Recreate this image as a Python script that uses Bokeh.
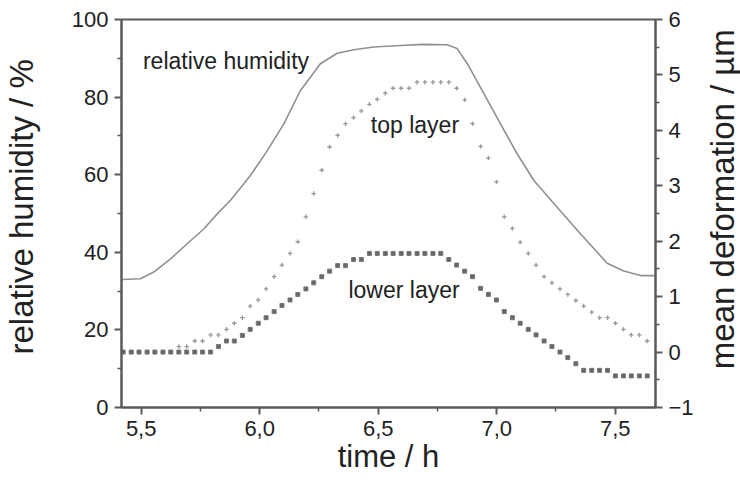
import math
from bokeh.plotting import figure
from bokeh.models import (Range1d, LinearAxis, FixedTicker, CustomJSTickFormatter,
                          Label, ColumnDataSource)
from bokeh.embed import file_html
from bokeh.resources import INLINE

# ---------------- data ----------------
# time (h) of each deformation measurement
time_h = [5.424, 5.458, 5.491, 5.525, 5.558, 5.592, 5.625, 5.659, 5.692, 5.726,
          5.759, 5.793, 5.826, 5.860, 5.893, 5.927, 5.960, 5.994, 6.027, 6.061,
          6.094, 6.128, 6.161, 6.195, 6.228, 6.262, 6.295, 6.329, 6.362, 6.396,
          6.429, 6.463, 6.496, 6.530, 6.563, 6.597, 6.630, 6.664, 6.697, 6.731,
          6.764, 6.798, 6.831, 6.865, 6.898, 6.932, 6.965, 6.999, 7.032, 7.066,
          7.099, 7.133, 7.166, 7.200, 7.233, 7.267, 7.300, 7.334, 7.367, 7.401,
          7.434, 7.468, 7.501, 7.535, 7.568, 7.602, 7.635]

# mean deformation of the top layer (um)
top_layer = [0.0, 0.0, 0.0, 0.0, 0.0, 0.0, 0.0, 0.10, 0.10, 0.20,
             0.20, 0.31, 0.31, 0.41, 0.52, 0.62, 0.83, 0.94, 1.14, 1.36,
             1.57, 1.78, 1.99, 2.44, 2.86, 3.28, 3.70, 3.91, 4.12, 4.23,
             4.35, 4.47, 4.56, 4.67, 4.76, 4.76, 4.76, 4.87, 4.87, 4.87,
             4.87, 4.87, 4.76, 4.55, 4.12, 3.71, 3.50, 3.07, 2.44, 2.23,
             1.98, 1.78, 1.57, 1.36, 1.25, 1.14, 1.04, 0.93, 0.83, 0.72,
             0.62, 0.62, 0.52, 0.41, 0.31, 0.31, 0.20]

# mean deformation of the lower layer (um)
lower_layer = [0.0, 0.0, 0.0, 0.0, 0.0, 0.0, 0.0, 0.0, 0.0, 0.0,
               0.0, 0.0, 0.10, 0.20, 0.20, 0.30, 0.41, 0.52, 0.62, 0.73,
               0.84, 0.94, 1.04, 1.14, 1.25, 1.36, 1.46, 1.56, 1.56, 1.67,
               1.67, 1.78, 1.78, 1.78, 1.78, 1.78, 1.78, 1.78, 1.78, 1.78,
               1.78, 1.67, 1.57, 1.46, 1.36, 1.15, 1.04, 0.94, 0.73, 0.62,
               0.52, 0.41, 0.31, 0.20, 0.10, 0.0, -0.10, -0.21, -0.33, -0.33,
               -0.33, -0.33, -0.43, -0.43, -0.43, -0.43, -0.43]

# relative humidity curve (h, %)
rh_time = [5.417, 5.497, 5.553, 5.624, 5.694, 5.764, 5.821, 5.877, 5.961, 6.032,
           6.102, 6.172, 6.214, 6.256, 6.327, 6.397, 6.481, 6.594, 6.692, 6.791,
           6.833, 6.876, 6.946, 7.016, 7.086, 7.157, 7.255, 7.353, 7.466, 7.536,
           7.607, 7.670]
rh_value = [33.0, 33.2, 34.9, 38.3, 42.2, 46.0, 49.9, 53.4, 59.8, 66.2,
            73.1, 81.7, 85.1, 88.6, 91.3, 92.2, 92.9, 93.3, 93.6, 93.5,
            92.5, 88.6, 80.9, 73.1, 65.4, 58.5, 51.6, 44.8, 37.2, 35.2,
            34.0, 34.0]

x_ticks = [5.5, 6.0, 6.5, 7.0, 7.5]
x_minor = [5.75, 6.25, 6.75, 7.25]
rh_ticks = [0, 20, 40, 60, 80, 100]
rh_minor = [10, 30, 50, 70, 90]
def_ticks = [-1, 0, 1, 2, 3, 4, 5, 6]
def_minor = [-0.5, 0.5, 1.5, 2.5, 3.5, 4.5, 5.5]

labels_text = ["relative humidity", "top layer", "lower layer"]
labels_x = [5.858, 6.655, 6.609]
labels_y = [89.2, 72.7, 30.2]

# ---------------- plot ----------------
FONT = "Liberation Sans"
TXT = "#222222"
AX = "#5a5a5a"

p = figure(width=740, height=494,
           x_range=Range1d(5.417, 7.670), y_range=Range1d(0, 100),
           output_backend="svg", toolbar_location=None,
           min_border_left=121, min_border_right=85,
           min_border_top=19, min_border_bottom=87)
p.extra_y_ranges = {"def": Range1d(-1, 6)}
p.xgrid.visible = False
p.ygrid.visible = False
p.outline_line_color = AX
p.outline_line_width = 2
p.background_fill_color = "white"
p.border_fill_color = "white"

def style_axis(ax, size):
    ax.axis_line_color = AX
    ax.axis_line_width = 2
    ax.major_tick_line_color = AX
    ax.minor_tick_line_color = AX
    ax.major_tick_line_width = 2
    ax.minor_tick_line_width = 1.5
    ax.major_tick_in = 0
    ax.major_tick_out = 7
    ax.minor_tick_in = 0
    ax.minor_tick_out = 4
    ax.major_label_text_font = FONT
    ax.major_label_text_font_size = "22px"
    ax.major_label_text_color = TXT
    ax.axis_label_text_font = FONT
    ax.axis_label_text_font_size = size
    ax.axis_label_text_font_style = "normal"
    ax.axis_label_text_color = TXT

xa = p.xaxis[0]
style_axis(xa, "31px")
xa.ticker = FixedTicker(ticks=x_ticks, minor_ticks=x_minor)
xa.formatter = CustomJSTickFormatter(code="return tick.toFixed(1).replace('.', ',');")
xa.axis_label = "time / h"
xa.major_label_standoff = 6
xa.axis_label_standoff = 0

ya = p.yaxis[0]
style_axis(ya, "31px")
ya.ticker = FixedTicker(ticks=rh_ticks, minor_ticks=rh_minor)
ya.major_label_standoff = 6

ra = LinearAxis(y_range_name="def")
style_axis(ra, "29px")
ra.ticker = FixedTicker(ticks=def_ticks, minor_ticks=def_minor)
ra.major_label_standoff = 6
p.add_layout(ra, "right")

# axis titles, both reading bottom to top (placed in the side panels)
p.add_layout(Label(x=4.995, y=51.7, text="relative humidity / %", angle=math.pi / 2,
                   text_font=FONT, text_font_size="33px", text_color=TXT,
                   text_align="center", text_baseline="middle"), "left")
p.add_layout(Label(x=7.953, y=53.7, text="mean deformation / µm", angle=math.pi / 2,
                   text_font=FONT, text_font_size="33px", text_color=TXT,
                   text_align="center", text_baseline="middle"), "right")

# relative humidity line
p.line(rh_time, rh_value, line_color="#909090", line_width=1.6)

# deformation series on right axis
src = ColumnDataSource(dict(t=time_h, top=top_layer, low=lower_layer))
p.scatter("t", "top", source=src, y_range_name="def", marker="cross",
          size=4.5, line_color="#999999", line_width=1.3)
p.scatter("t", "low", source=src, y_range_name="def", marker="square",
          size=4, fill_color="#666666", line_color="#777777", line_width=1)

for txt, lx, ly in zip(labels_text, labels_x, labels_y):
    p.add_layout(Label(x=lx, y=ly, text=txt, text_font=FONT, text_font_size="23px",
                       text_color=TXT, text_align="center", text_baseline="middle"))

open("out.html", "w").write(file_html(p, INLINE))
